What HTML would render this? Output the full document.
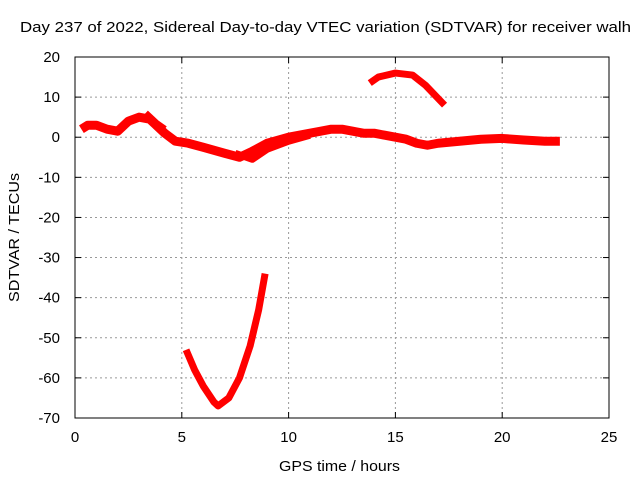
<!DOCTYPE html>
<html><head><meta charset="utf-8"><style>
body{margin:0;background:#fff}
text{font-family:"Liberation Sans",sans-serif;font-size:15px;fill:#000}
</style></head><body>
<svg id="chart" width="640" height="480" xmlns="http://www.w3.org/2000/svg">
<text x="20" y="32" textLength="611" lengthAdjust="spacingAndGlyphs">Day 237 of 2022, Sidereal Day-to-day VTEC variation (SDTVAR) for receiver walh</text>
<g id="grid"></g>
<g id="series"></g>
<rect x="75" y="57" width="534" height="361" fill="none" stroke="#000" stroke-width="1"/>
<g id="ticks"></g>
<text x="279" y="471" textLength="121" lengthAdjust="spacingAndGlyphs">GPS time / hours</text>
<text transform="translate(19,302) rotate(-90)" textLength="129" lengthAdjust="spacingAndGlyphs">SDTVAR / TECUs</text>
</svg>
<script>
const xTicks=[0,5,10,15,20,25];
const yTicks=[20,10,0,-10,-20,-30,-40,-50,-60,-70];
const mainHours=[0.3,0.6,1,1.5,2,2.5,3,3.5,3.8,4.2,4.7,5.3,6,7,7.7,8.3,9,10,11,12,12.5,13,13.5,14,14.5,15,15.5,16,16.5,17,18,19,20,21,22,22.7];
const mainVals=[2,3,3,2,1.5,4,5,4.5,3,1,-1,-1.5,-2.5,-4,-5,-3.5,-1.5,0,1,2,2,1.5,1,1,0.5,0,-0.5,-1.5,-2,-1.5,-1,-0.5,-0.3,-0.7,-1,-1];
const branchHours=[7.5,8.3,9,10,11];
const branchVals=[-4,-5.5,-3,-1,0.5];
const bumpHours=[3.3,3.8,4.2];
const bumpVals=[6,3.5,2];
const arcHours=[13.8,14.2,15,15.8,16.4,17.3];
const arcVals=[13.5,15,16,15.5,13,8];
const dipHours=[5.2,5.6,6,6.5,6.7,7.2,7.7,8.2,8.6,8.9];
const dipVals=[-53,-58,-62,-66,-67,-65,-60,-52,-43,-34];
const NS='http://www.w3.org/2000/svg';
const X=h=>75+h*(534/25);
const Y=v=>57+(20-v)*(361/90);
const grid=document.getElementById('grid'),ticks=document.getElementById('ticks'),ser=document.getElementById('series');
function mk(tag,attrs,parent){const e=document.createElementNS(NS,tag);for(const k in attrs)e.setAttribute(k,attrs[k]);parent.appendChild(e);return e;}
xTicks.forEach(t=>{
 if(t>0&&t<25){const l=mk('line',{x1:X(t),x2:X(t),y1:57,y2:418,stroke:'#999','stroke-dasharray':'2,3'},grid);
 
 }
 mk('line',{x1:X(t),x2:X(t),y1:418,y2:412,stroke:'#000'},ticks);
 mk('line',{x1:X(t),x2:X(t),y1:57,y2:63,stroke:'#000'},ticks);
 const tx=mk('text',{x:X(t),y:442,'text-anchor':'middle'},ticks);tx.textContent=t;
 
 
});
yTicks.forEach(t=>{
 if(t<20&&t>-70){const l=mk('line',{x1:75,x2:609,y1:Y(t),y2:Y(t),stroke:'#999','stroke-dasharray':'2,3'},grid);
 
 }
 mk('line',{x1:75,x2:81,y1:Y(t),y2:Y(t),stroke:'#000'},ticks);
 mk('line',{x1:603,x2:609,y1:Y(t),y2:Y(t),stroke:'#000'},ticks);
 const tx=mk('text',{x:60,y:Y(t)+5,'text-anchor':'end'},ticks);tx.textContent=t;
 
 
});
function line(hs,vs,name,w){
 const p=mk('polyline',{points:hs.map((h,i)=>X(h)+','+Y(vs[i])).join(' '),fill:'none',stroke:'#f00','stroke-width':w,'stroke-linejoin':'round','stroke-linecap':'butt'},ser);
 
 
}
line(mainHours,mainVals,'sdtvar-main-series',9);
line(branchHours,branchVals,'sdtvar-branch-series',7);
line(bumpHours,bumpVals,'sdtvar-bump-series',7);
line(arcHours,arcVals,'sdtvar-arc-series',7);
line(dipHours,dipVals,'sdtvar-dip-series',7);
</script>
</body></html>
